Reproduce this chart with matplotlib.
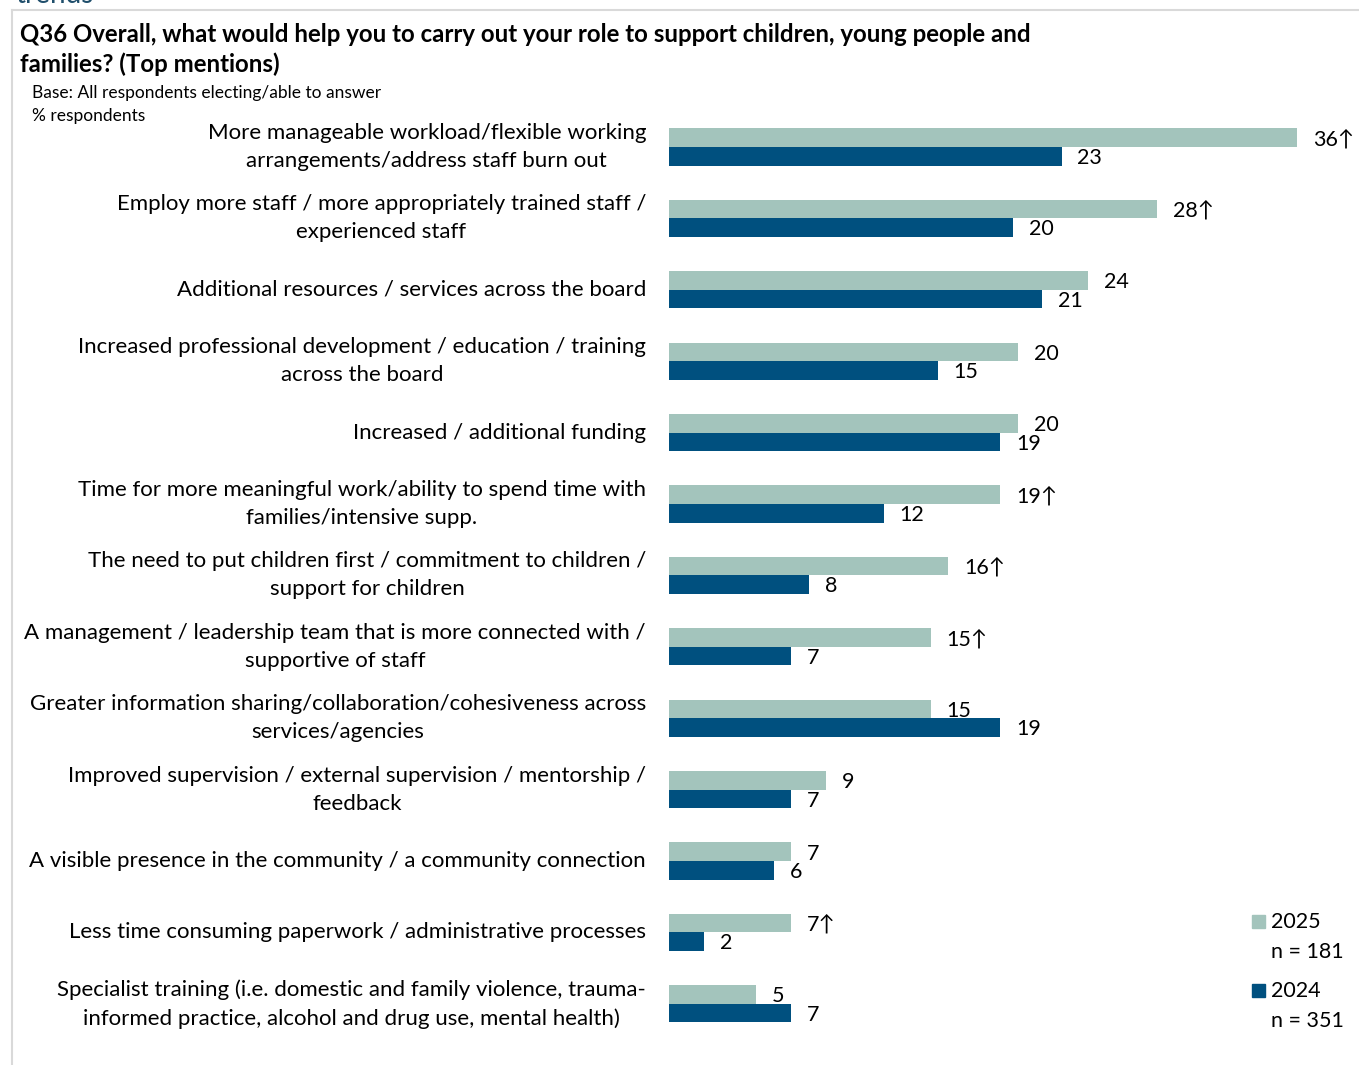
import matplotlib
matplotlib.use("Agg")
import matplotlib.pyplot as plt
from matplotlib.lines import Line2D
from matplotlib.patches import Rectangle

plt.rcParams['font.family'] = ['Lato', 'DejaVu Sans']

categories = [
    "More manageable workload/flexible working\narrangements/address staff burn out",
    "Employ more staff / more appropriately trained staff /\nexperienced staff",
    "Additional resources / services across the board",
    "Increased professional development / education / training\nacross the board",
    "Increased / additional funding",
    "Time for more meaningful work/ability to spend time with\nfamilies/intensive supp.",
    "The need to put children first / commitment to children /\nsupport for children",
    "A management / leadership team that is more connected with /\nsupportive of staff",
    "Greater information sharing/collaboration/cohesiveness across\nservices/agencies",
    "Improved supervision / external supervision / mentorship /\nfeedback",
    "A visible presence in the community / a community connection",
    "Less time consuming paperwork / administrative processes",
    "Specialist training (i.e. domestic and family violence, trauma-\ninformed practice, alcohol and drug use, mental health)",
]
values_2025 = [36, 28, 24, 20, 20, 19, 16, 15, 15, 9, 7, 7, 5]
values_2024 = [22.5, 19.7, 21.4, 15.4, 19, 12.3, 8, 7, 19, 7, 6, 2, 7]
labels_2025 = ["36↑", "28↑", "24", "20", "20", "19↑", "16↑", "15↑", "15", "9", "7", "7↑", "5"]
labels_2024 = ["23", "20", "21", "15", "19", "12", "8", "7", "19", "7", "6", "2", "7"]
legend_labels = ["2025", "2024"]
legend_n = ["n = 181", "n = 351"]

c25 = "#a3c4bc"
c24 = "#00507f"

W, H = 1359, 1065
fig = plt.figure(figsize=(W / 100, H / 100), dpi=100)

# axes geometry in pixels
x0, x1 = 669, 1297
ytop, ybot = 111.3, 1039.5
ax = fig.add_axes([x0 / W, 1 - ybot / H, (x1 - x0) / W, (ybot - ytop) / H])
ax.set_xlim(0, 36)
n = len(categories)
ax.set_ylim(n - 0.5, -0.5)
ax.axis("off")

ys = list(range(n))
bh = 0.26
ax.barh([y - bh / 2 for y in ys], values_2025, height=bh, color=c25)
ax.barh([y + bh / 2 for y in ys], values_2024, height=bh, color=c24)

fs_val = 15.5
for y, v, lab in zip(ys, values_2025, labels_2025):
    ax.annotate(lab, xy=(v, y - bh / 2), xytext=(11.5, -1.3), textcoords="offset points",
                va="center", ha="left", fontsize=fs_val, color="black", annotation_clip=False)
for y, v, lab in zip(ys, values_2024, labels_2024):
    ax.annotate(lab, xy=(v, y + bh / 2), xytext=(11.5, -1.3), textcoords="offset points",
                va="center", ha="left", fontsize=fs_val, color="black", annotation_clip=False)

# category labels
for y, cat in zip(ys, categories):
    ypix = 147 + 71.4 * y
    fig.text(646 / W, 1 - ypix / H, cat, ha="right", va="center", multialignment="center",
             fontsize=16, linespacing=1.5, color="black")

# title
fig.text(20 / W, 1 - 34.5 / H, "Q36 Overall, what would help you to carry out your role to support children, young people and",
         fontsize=17.3, fontweight="bold", va="center", ha="left")
fig.text(20 / W, 1 - 64.5 / H, "families? (Top mentions)", fontsize=17.3, fontweight="bold", va="center", ha="left")
fig.text(32 / W, 1 - 93 / H, "Base: All respondents electing/able to answer", fontsize=12.5, va="center", ha="left")
fig.text(32 / W, 1 - 116 / H, "% respondents", fontsize=12.5, va="center", ha="left")

# cut-off header text
fig.text(15 / W, 1 - 3 / H, "trends", fontsize=20, va="baseline", ha="left", color="#1f4e6b")

# frame lines
fig.add_artist(Line2D([11.5 / W, 11.5 / W], [0, 1 - 9.5 / H], color="#d9d9d9", lw=1.5))
fig.add_artist(Line2D([11.5 / W, 1358 / W], [1 - 9.5 / H, 1 - 9.5 / H], color="#d9d9d9", lw=1.5))

# legend
for i, (lab, nn, col) in enumerate(zip(legend_labels, legend_n, [c25, c24])):
    yl = 922 + 69 * i
    fig.add_artist(Rectangle((1252 / W, 1 - (yl + 6) / H), 13 / W, 13 / H, color=col))
    fig.text(1271 / W, 1 - yl / H, lab, fontsize=15.5, va="center", ha="left")
    fig.text(1271 / W, 1 - (yl + 30) / H, nn, fontsize=15.5, va="center", ha="left")

fig.savefig("out.png", dpi=100)
